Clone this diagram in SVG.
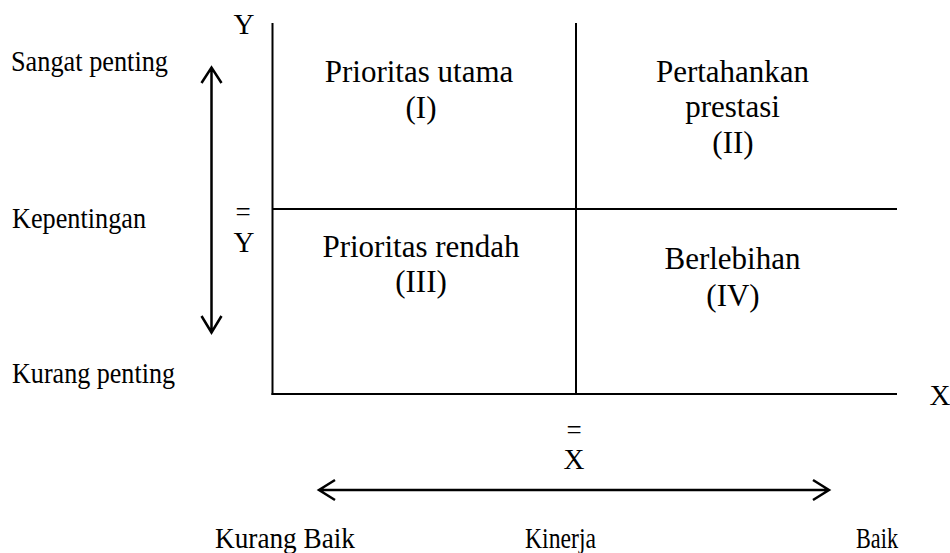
<svg xmlns="http://www.w3.org/2000/svg" width="950" height="553" viewBox="0 0 950 553" font-family="'Liberation Serif', 'Times New Roman', serif">
<style>
text{font-family:'Liberation Serif','Times New Roman',serif;fill:#000}
.q{font-size:31px;text-anchor:middle}
.s{font-size:29px}
.e{font-size:27px;text-anchor:middle}
.ax{stroke:#000;stroke-width:2;fill:none}
.ar{stroke:#000;stroke-width:2.5;fill:none}
</style>
<g id="connectors">
<line class="ax" x1="272.5" y1="23" x2="272.5" y2="395"/>
<line class="ax" x1="271.5" y1="394" x2="897" y2="394"/>
<line class="ax" x1="576" y1="23" x2="576" y2="394"/>
<line class="ax" x1="272" y1="209" x2="897" y2="209"/>
<path class="ar" d="M211.5 68 V332 M201.5 83 L211.5 67.5 L221.5 83 M201.5 316 L211.5 332.5 L221.5 316"/>
<path class="ar" d="M319 490 H829 M335 480 L319 490 L335 500 M813 480 L829 490 L813 500"/>
</g>
<g id="q1"><text class="q" x="419" y="82">Prioritas utama</text><text class="q" x="421" y="118">(I)</text></g>
<g id="q2"><text class="q" x="732.5" y="82">Pertahankan</text><text class="q" x="732.5" y="117">prestasi</text><text class="q" x="733" y="153">(II)</text></g>
<g id="q3"><text class="q" x="421" y="257">Prioritas rendah</text><text class="q" x="421" y="292">(III)</text></g>
<g id="q4"><text class="q" x="732.5" y="269">Berlebihan</text><text class="q" x="733" y="306">(IV)</text></g>
<g id="labels">
<text class="s" x="11" y="71" textLength="157" lengthAdjust="spacingAndGlyphs">Sangat penting</text>
<text class="s" x="12" y="228" textLength="134" lengthAdjust="spacingAndGlyphs">Kepentingan</text>
<text class="s" x="12" y="383" textLength="163" lengthAdjust="spacingAndGlyphs">Kurang penting</text>
<text class="s" x="244" y="34" text-anchor="middle">Y</text>
<text class="s" x="940" y="405" text-anchor="middle">X</text>
<text class="e" x="243" y="221">=</text>
<text class="s" x="244" y="252" text-anchor="middle">Y</text>
<text class="e" x="574" y="439">=</text>
<text class="s" x="574" y="469" text-anchor="middle">X</text>
<text class="s" x="215" y="548" textLength="140" lengthAdjust="spacingAndGlyphs">Kurang Baik</text>
<text class="s" x="525" y="548" textLength="71" lengthAdjust="spacingAndGlyphs">Kinerja</text>
<text class="s" x="856" y="548" textLength="42" lengthAdjust="spacingAndGlyphs">Baik</text>
</g>
</svg>
